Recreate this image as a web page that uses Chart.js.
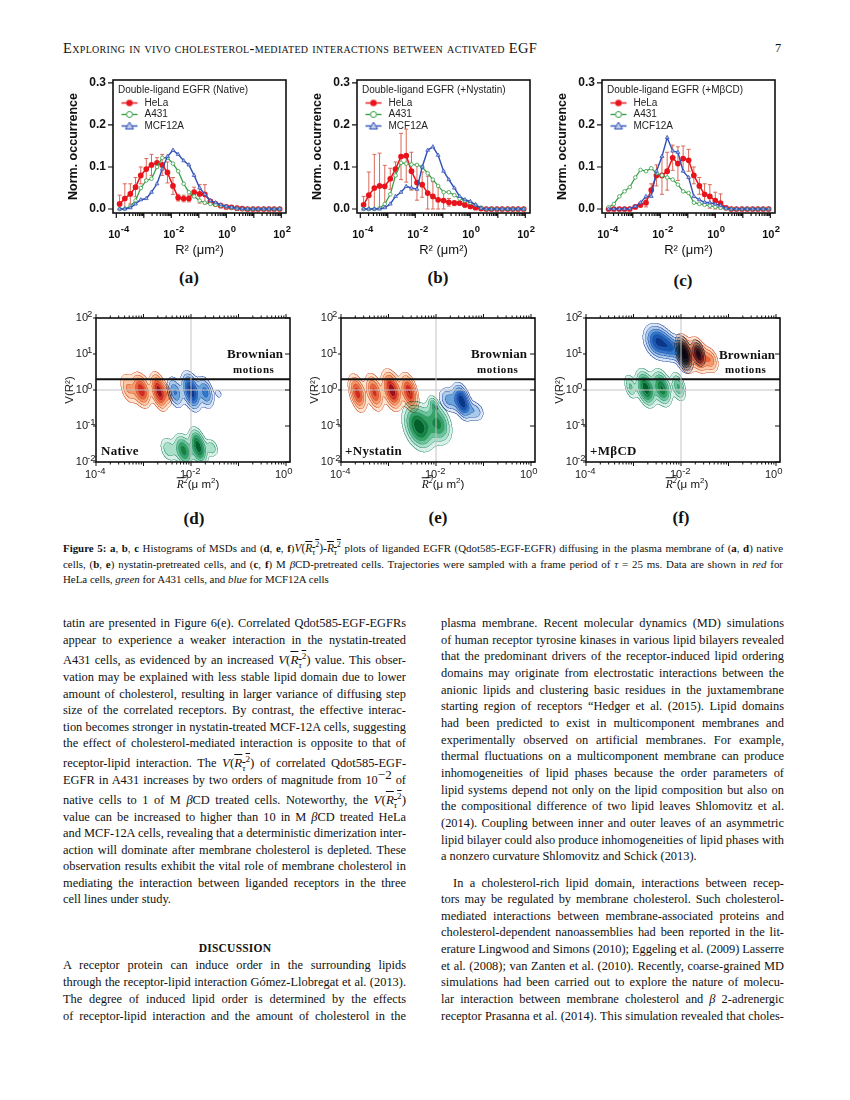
<!DOCTYPE html>
<html><head><meta charset="utf-8">
<script src="https://cdn.jsdelivr.net/npm/chart.js@4/dist/chart.umd.js"></script>
<style>
html,body{margin:0;padding:0;background:#fff;width:850px;height:1100px;overflow:hidden}
body{position:relative;font-family:"Liberation Serif",serif;color:#111}
canvas{position:absolute}
.t{position:absolute;white-space:nowrap;line-height:1}
.ln{position:absolute;white-space:nowrap;line-height:14px;height:14px;text-align:justify;text-align-last:justify;font-size:12.4px}
.cp{position:absolute;white-space:nowrap;line-height:12px;height:12px;font-size:10.9px;text-align:justify;text-align-last:justify}
.ol{text-decoration:overline}
sub,sup{font-size:70%;line-height:0}
.m{font-size:13px}
</style></head><body>
<script>
// ---------- histogram data (panels a, b, c) ----------
const binExponents=[-3.88,-3.69,-3.49,-3.30,-3.11,-2.91,-2.72,-2.52,-2.33,-2.14,-1.94,-1.75,-1.55,-1.36,-1.17,-0.97,-0.78,-0.58,-0.39,-0.20,0.00,0.19,0.39,0.58,0.77,0.97,1.16,1.36,1.55,1.74,1.94];
const aHeLa=[.012,.025,.036,.052,.08,.095,.105,.11,.105,.087,.055,.027,.025,.025,.04,.036,.035,.018,.012,.008,.005,.004,.002,.001,0,0,0,0,0,0,0];
const aHeLaErr=[.021,.035,.024,.023,.02,.025,.025,.012,.025,.025,.02,.008,.008,.008,.012,.022,.023,.004,.003,.002,.001,.001,0,0,0,0,0,0,0,0,0];
const aA431=[0,.001,.006,.02,.05,.068,.072,.1,.122,.122,.108,.09,.06,.04,.03,.02,.015,.012,.01,.008,.005,.003,.001,0,0,0,0,0,0,0,0];
const aMCF=[0,0,.003,.012,.022,.025,.04,.06,.095,.125,.14,.13,.115,.105,.08,.05,.035,.02,.015,.01,.006,.004,.002,.001,0,0,0,0,0,0,0];
const bHeLa=[.01,.033,.05,.055,.054,.072,.095,.125,.127,.09,.063,.058,.038,.03,.022,.02,.016,.014,.014,.01,.006,.003,.001,0,0,0,0,0,0,0,0];
const bHeLaErr=[.02,.055,.08,.078,.05,.025,.017,.055,.063,.045,.042,.03,.04,.035,.033,.02,.009,.006,.004,.006,.004,.002,0,0,0,0,0,0,0,0,0];
const bA431=[0,0,0,.002,.012,.035,.08,.11,.108,.106,.105,.1,.085,.07,.055,.04,.04,.033,.025,.02,.015,.01,.003,0,0,0,0,0,0,0,0];
const bMCF=[0,0,0,0,.003,.012,.03,.04,.054,.05,.047,.1,.14,.148,.128,.09,.07,.05,.03,.022,.018,.01,.002,0,0,0,0,0,0,0,0];
const cHeLa=[0,0,0,0,0,.005,.01,.015,.045,.08,.08,.09,.122,.108,.12,.116,.08,.055,.035,.03,.02,.014,.003,0,0,0,0,0,0,0,0];
const cHeLaErr=[0,0,0,0,0,.003,.006,.01,.015,.025,.045,.045,.03,.04,.03,.026,.02,.02,.025,.028,.02,.022,.003,0,0,0,0,0,0,0,0];
const cA431=[.004,.012,.03,.042,.052,.075,.093,.09,.097,.085,.08,.075,.07,.058,.042,.038,.015,.012,.01,.008,.005,.003,.001,0,0,0,0,0,0,0,0];
const cMCF=[0,0,0,0,.001,.006,.015,.03,.03,.09,.125,.17,.138,.135,.09,.075,.03,.022,.016,.015,.012,.008,.002,0,0,0,0,0,0,0,0];
const histYTicks=[0,.1,.2,.3];
const histXTicks=[1e-4,1e-2,1,100];
const histXExponents=['-4','-2','0','2'];
const seriesNames=['HeLa','A431','MCF12A'];
const histTitles=['Double-ligand EGFR (Native)','Double-ligand EGFR (+Nystatin)','Double-ligand EGFR (+MβCD)'];
// ---------- density lobes (panels d, e, f): R², V, relative density, spread in log R², spread in log V ----------
const dHeLa=[[4.7e-4,1.12,.35,.09,.24],[8.9e-4,1,.8,.1,.25],[2.1e-3,.92,1,.085,.26],[3.2e-3,.75,.3,.05,.17]];
const dA431=[[3.3e-3,.023,.3,.1,.2],[6.9e-3,.021,.75,.1,.24],[1.4e-2,.027,1,.09,.26],[2.7e-2,.025,.3,.08,.15]];
const dMCF=[[4.6e-3,.87,.5,.09,.24],[1e-2,.93,1,.095,.27],[2e-2,.87,.55,.09,.24],[3.8e-2,.8,.15,.05,.1]];
const eHeLa=[[2.2e-4,.83,.75,.09,.27],[5e-4,.88,.7,.09,.27],[1.17e-3,1,1,.1,.28],[2.7e-3,.88,.85,.09,.27]];
const eA431=[[4.3e-3,.098,1,.16,.33],[1.1e-2,.12,.7,.14,.3],[8.7e-3,.4,.35,.06,.14]];
const eMCF=[[3.5e-2,.49,1,.09,.25],[1.86e-2,.54,.4,.12,.2],[6.6e-2,.26,.3,.11,.17],[1e-2,.32,.2,.02,.05]];
const fHeLa=[[1.2e-2,10.5,1,.09,.26],[2.3e-2,9.5,.95,.09,.24],[4.1e-2,6.9,.45,.09,.2]];
const fA431=[[8.5e-4,1.26,.35,.07,.2],[1.8e-3,1.13,1,.1,.26],[3.9e-3,1.17,.85,.1,.26],[8.7e-3,1.26,.5,.08,.22]];
const fMCF=[[3.3e-3,22,.9,.15,.25],[6e-3,15,.5,.1,.2],[1.1e-2,10,1,.09,.25],[2.3e-2,10.7,.55,.07,.2]];
const brownianV=2;
const contourXTicks=[1e-4,1e-2,1];
const contourXExponents=['-4','-2','0'];
const contourYTicks=[1e-2,1e-1,1,10,100];
const contourYExponents=['-2','-1','0','1','2'];

const densityLevels=[.1,.2,.33,.48,.64,.82];
const palette={
 red:{edge:[214,92,54],fill:[[253,228,208],[251,199,162],[244,153,108],[232,98,63],[207,43,34],[154,15,30]]},
 green:{edge:[60,152,120],fill:[[217,240,232],[170,223,201],[108,196,154],[53,162,102],[20,131,63],[3,96,43]]},
 blue:{edge:[56,88,174],fill:[[216,230,246],[169,203,233],[104,163,220],[47,120,203],[21,88,176],[8,56,138]]}
};

function el(cls,style,html){const d=document.createElement('div');d.className=cls;d.style.cssText=style;d.innerHTML=html;document.body.appendChild(d);return d;}
function minorValues(lo,hi){const out=[];for(let e=lo;e<hi;e++)for(let m=1;m<10;m++)out.push({v:m*Math.pow(10,e),major:m===1});out.push({v:Math.pow(10,hi),major:true});return out;}
function drawExp(ctx,text,x,y,font){ctx.font=font;ctx.textAlign='left';ctx.textBaseline='middle';ctx.fillText(text,x,y);}

const histFrame={id:'histFrame',
 beforeDatasetsDraw(c){
  const ctx=c.ctx,y=c.scales.y;ctx.save();ctx.lineWidth=1;ctx.strokeStyle='#d9695a';
  c.data.datasets.forEach((ds,i)=>{if(!ds.yErr)return;const m=c.getDatasetMeta(i);
   ds.yErr.forEach((er,k)=>{if(!er)return;const px=m.data[k].x;const a=y.getPixelForValue(ds.data[k].y+er),b=y.getPixelForValue(Math.max(ds.data[k].y-er,0));
    ctx.beginPath();ctx.moveTo(px,a);ctx.lineTo(px,b);ctx.moveTo(px-2,a);ctx.lineTo(px+2,a);ctx.moveTo(px-2,b);ctx.lineTo(px+2,b);ctx.stroke();});});
  ctx.restore();},
 afterDraw(c){
  const ctx=c.ctx,a=c.chartArea;ctx.save();ctx.strokeStyle='#111';ctx.lineWidth=1.6;ctx.strokeRect(a.left,a.top,a.right-a.left,a.bottom-a.top);
  ctx.lineWidth=1.2;ctx.beginPath();
  minorValues(-4,2).forEach(t=>{const x=c.scales.x.getPixelForValue(t.v);ctx.moveTo(x,a.bottom);ctx.lineTo(x,a.bottom+(t.major?5:3));});
  histYTicks.forEach(t=>{const y=c.scales.y.getPixelForValue(t);ctx.moveTo(a.left,y);ctx.lineTo(a.left-5,y);});
  ctx.stroke();
  ctx.fillStyle='#111';
  histXTicks.forEach((t,i)=>drawExp(ctx,histXExponents[i],c.scales.x.getPixelForValue(t)-2+6.5,a.bottom+16,"bold 9.5px 'Liberation Sans'"));
  ctx.restore();},
 afterLayout(c){if(c.legend){c.legend.left=c.chartArea.left+5;c.legend.top=c.chartArea.top+5;}}
};

function marker(color,kind){const cv=document.createElement('canvas');cv.width=20;cv.height=9;const g=cv.getContext('2d');
 g.strokeStyle=color;g.lineWidth=1.4;g.beginPath();g.moveTo(2,4.5);g.lineTo(18,4.5);g.stroke();
 g.lineWidth=1;
 if(kind==='c'){g.fillStyle=color;g.beginPath();g.arc(10,4.5,3.2,0,7);g.fill();}
 if(kind==='o'){g.fillStyle='#fff';g.beginPath();g.arc(10,4.5,3,0,7);g.fill();g.stroke();}
 if(kind==='t'){g.fillStyle='#c4cdec';g.beginPath();g.moveTo(10,.5);g.lineTo(14,7.5);g.lineTo(6,7.5);g.closePath();g.fill();g.stroke();}
 return cv;}

function histChart(left,title,he,er,gr,bl){
 const cv=document.createElement('canvas');cv.width=230;cv.height=186;cv.style.left=(left-47)+'px';cv.style.top='72px';document.body.appendChild(cv);
 const pts=arr=>arr.map((v,i)=>({x:Math.pow(10,binExponents[i]),y:v}));
 const cols=['#e8141c','#3aa04a','#2e4fb5'];
 const marks=[marker(cols[0],'c'),marker(cols[1],'o'),marker(cols[2],'t')];
 new Chart(cv,{type:'scatter',plugins:[histFrame],
  data:{datasets:[
   {label:seriesNames[1],data:pts(gr),showLine:true,borderColor:cols[1],borderWidth:1.3,pointStyle:'circle',pointRadius:1.8,pointBackgroundColor:'#fff',pointBorderColor:cols[1],pointBorderWidth:.8,order:2,tension:0},
   {label:seriesNames[0],data:pts(he),yErr:er,showLine:true,borderColor:cols[0],borderWidth:1.5,pointStyle:'circle',pointRadius:2.1,pointBackgroundColor:cols[0],pointBorderColor:cols[0],order:3,tension:0},
   {label:seriesNames[2],data:pts(bl),showLine:true,borderColor:cols[2],borderWidth:1.4,pointStyle:'triangle',pointRadius:2.2,pointBackgroundColor:'#a9b6e6',pointBorderColor:cols[2],pointBorderWidth:.7,order:1,tension:0}
  ]},
  options:{responsive:false,animation:false,devicePixelRatio:1,clip:false,
   layout:{padding:{left:0,top:8,right:10,bottom:0}},
   plugins:{tooltip:{enabled:false},
    legend:{display:true,position:'chartArea',align:'start',
     title:{display:true,text:title,color:'#222',position:'start',padding:0,font:{family:'Liberation Sans',size:10,lineHeight:1.15}},
     labels:{usePointStyle:true,pointStyleWidth:20,padding:1.5,color:'#222',font:{family:'Liberation Sans',size:10},
      generateLabels(){return seriesNames.map((n,i)=>({text:n,pointStyle:marks[i],fontColor:'#222',lineWidth:0,strokeStyle:'transparent',fillStyle:'transparent',hidden:false,datasetIndex:i}));}}}},
   scales:{
    x:{type:'logarithmic',min:Math.pow(10,-4.12),max:Math.pow(10,2.17),
     afterBuildTicks(s){s.ticks=histXTicks.map(v=>({value:v,major:true}));},
     afterFit(s){s.height=45;s.paddingLeft=0;s.paddingRight=0;},
     grid:{display:false,drawTicks:false},border:{display:false},
     ticks:{autoSkip:false,maxRotation:0,padding:15,labelOffset:-2,color:'#111',font:{family:'Liberation Sans',size:11,weight:'bold'},callback(){return '10';}},
     title:{display:true,text:'R² (μm²)',color:'#111',padding:0,font:{family:'Liberation Sans',size:13,lineHeight:1.2}}},
    y:{type:'linear',min:-.0095,max:.307,
     afterBuildTicks(s){s.ticks=histYTicks.map(v=>({value:v}));},
     afterFit(s){s.width=47;s.paddingTop=0;s.paddingBottom=0;},
     grid:{display:false,drawTicks:false},border:{display:false},
     ticks:{autoSkip:false,padding:7,color:'#111',font:{family:'Liberation Sans',size:12,weight:'bold'},callback(v){return v.toFixed(1);}},
     title:{display:true,text:'Norm. occurrence',color:'#111',padding:0,font:{family:'Liberation Sans',size:12.5,weight:'bold',lineHeight:1.2}}}
   }}});
}

function drawDensity(c,ds,pal,idx){
 const a=c.chartArea,sx=c.scales.x,sy=c.scales.y,ss=2,W=Math.round((a.right-a.left)*ss),H=Math.round((a.bottom-a.top)*ss);
 const meta=c.getDatasetMeta(idx);
 const lobes=ds.lobes.map((l,k)=>{const cx=meta.data[k].x,cy=meta.data[k].y;
  return {cx,cy,p:l[2],rx:sx.getPixelForValue(l[0]*Math.pow(10,l[3]))-cx,ry:cy-sy.getPixelForValue(l[1]*Math.pow(10,l[4]))};});
 const lev=new Uint8Array(W*H);
 for(let j=0;j<H;j++)for(let i=0;i<W;i++){
  const x=a.left+(i+.5)/ss,y=a.top+(j+.5)/ss;let z=0;
  for(const l of lobes){const dy=y-l.cy,dx=x-l.cx-.22*dy;z+=l.p*Math.exp(-.5*(dx*dx/(l.rx*l.rx)+dy*dy/(l.ry*l.ry)));}
  let n=0;while(n<densityLevels.length&&z>=densityLevels[n])n++;lev[j*W+i]=n;}
 const off=document.createElement('canvas');off.width=W;off.height=H;const g=off.getContext('2d'),im=g.createImageData(W,H),d=im.data;
 for(let j=0;j<H;j++)for(let i=0;i<W;i++){const q=j*W+i,n=lev[q],l=i?lev[q-1]:n,u=j?lev[q-W]:n;const o=q*4;
  if(n!==l||n!==u){const e=pal.edge;d[o]=e[0];d[o+1]=e[1];d[o+2]=e[2];d[o+3]=255;}
  else if(n){const f=pal.fill[n-1];d[o]=f[0];d[o+1]=f[1];d[o+2]=f[2];d[o+3]=255;}}
 g.putImageData(im,0,0);
 c.ctx.save();c.ctx.globalCompositeOperation='multiply';c.ctx.imageSmoothingEnabled=true;c.ctx.drawImage(off,a.left,a.top,a.right-a.left,a.bottom-a.top);c.ctx.restore();
}
const contourFrame={id:'contourFrame',
 beforeDatasetsDraw(c){c.data.datasets.forEach((ds,i)=>{if(ds.lobes)drawDensity(c,ds,palette[ds.tone],i);});},
 afterDraw(c){
  const ctx=c.ctx,a=c.chartArea;ctx.save();ctx.strokeStyle='#111';ctx.lineWidth=1.6;ctx.strokeRect(a.left,a.top,a.right-a.left,a.bottom-a.top);
  ctx.lineWidth=1;ctx.beginPath();
  minorValues(-4,0).forEach(t=>{const x=c.scales.x.getPixelForValue(t.v),n=t.major?4:2.5;
   ctx.moveTo(x,a.bottom);ctx.lineTo(x,a.bottom+n);ctx.moveTo(x,a.top);ctx.lineTo(x,a.top-n);});
  contourYTicks.forEach(t=>{const y=c.scales.y.getPixelForValue(t);ctx.moveTo(a.left,y);ctx.lineTo(a.left-3,y);ctx.moveTo(a.right,y);ctx.lineTo(a.right-5,y);});
  ctx.stroke();
  ctx.fillStyle='#222';
  const f="9.5px 'Liberation Sans'";
  contourXTicks.forEach((t,i)=>drawExp(ctx,contourXExponents[i],c.scales.x.getPixelForValue(t)-5+6.2,a.bottom+9,f));
  contourYTicks.forEach((t,i)=>drawExp(ctx,contourYExponents[i],a.left-9,c.scales.y.getPixelForValue(t)-4,f));
  ctx.restore();}
};

function contourChart(left,he,gr,bl){
 const cv=document.createElement('canvas');cv.width=237;cv.height=190;cv.style.left=(left-33)+'px';cv.style.top='305px';document.body.appendChild(cv);
 const xMax=Math.pow(10,.084);
 const lob=(name,arr,tone)=>({label:name,lobes:arr,tone,data:arr.map(l=>({x:l[0],y:l[1]})),pointRadius:0,showLine:false});
 new Chart(cv,{type:'scatter',plugins:[contourFrame],
  data:{datasets:[
   lob(seriesNames[0],he,'red'),lob(seriesNames[1],gr,'green'),lob(seriesNames[2],bl,'blue'),
   {label:'V = 1',data:[{x:1e-4,y:1},{x:xMax,y:1}],showLine:true,borderColor:'#c4c4c4',borderWidth:1,pointRadius:0},
   {label:'R² = 10⁻²',data:[{x:1e-2,y:1e-2},{x:1e-2,y:100}],showLine:true,borderColor:'#c4c4c4',borderWidth:1,pointRadius:0},
   {label:'Brownian',data:[{x:1e-4,y:brownianV},{x:xMax,y:brownianV}],showLine:true,borderColor:'#111',borderWidth:2,pointRadius:0}
  ]},
  options:{responsive:false,animation:false,devicePixelRatio:1,
   layout:{padding:{left:0,top:13,right:10,bottom:0}},
   plugins:{legend:{display:false},tooltip:{enabled:false}},
   scales:{
    x:{type:'logarithmic',min:1e-4,max:xMax,
     afterBuildTicks(s){s.ticks=contourXTicks.map(v=>({value:v,major:true}));},
     afterFit(s){s.height=33;s.paddingLeft=0;s.paddingRight=0;},
     grid:{display:false,drawTicks:false},border:{display:false},
     ticks:{autoSkip:false,maxRotation:0,padding:6,labelOffset:-5,color:'#222',font:{family:'Liberation Sans',size:11},callback(){return '10';}}},
    y:{type:'logarithmic',min:1e-2,max:100,
     afterBuildTicks(s){s.ticks=contourYTicks.map(v=>({value:v,major:true}));},
     afterFit(s){s.width=33;s.paddingTop=0;s.paddingBottom=0;},
     grid:{display:false,drawTicks:false},border:{display:false},
     ticks:{autoSkip:false,padding:8,color:'#222',font:{family:'Liberation Sans',size:11},callback(){return '10';}},
     title:{display:true,text:'V(R²)',color:'#222',padding:0,font:{family:'Liberation Sans',size:11.5,lineHeight:1.2}}}
   }}});
}

histChart(113,histTitles[0],aHeLa,aHeLaErr,aA431,aMCF);
histChart(357,histTitles[1],bHeLa,bHeLaErr,bA431,bMCF);
histChart(602,histTitles[2],cHeLa,cHeLaErr,cA431,cMCF);
contourChart(96,dHeLa,dA431,dMCF);
contourChart(341,eHeLa,eA431,eMCF);
contourChart(586,fHeLa,fA431,fMCF);

// ---------- page text ----------
const VR='<span class="m"><i>V</i>(<span class="ol"><i>R<sub>τ</sub></i><sup>2</sup></span>)</span>';
el('t','left:63px;top:41px;font-size:14.5px;font-variant:small-caps;letter-spacing:.33px','Exploring in vivo cholesterol-mediated interactions between activated EGF');
el('t','left:775px;top:42px;font-size:12.5px','7');
[['(a)',189,277],['(b)',438,277],['(c)',683,280],['(d)',194,518],['(e)',438,517],['(f)',681,517]].forEach(p=>el('t',`left:${p[1]}px;top:${p[2]}px;transform:translate(-50%,-50%);font-size:17px;font-weight:bold`,p[0]));
[[96,'Native',101,451],[341,'+Nystatin',345,451],[586,'+MβCD',590,451]].forEach(p=>el('t',`left:${p[2]}px;top:${p[3]-7}px;font-size:13px;font-weight:bold;letter-spacing:.3px`,p[1]));
[[227,354],[471,354],[719,355]].forEach(p=>el('t',`left:${p[0]}px;top:${p[1]-7}px;font-size:13px;font-weight:bold;letter-spacing:.2px`,'Brownian'));
[[233,370],[477,370],[725,370]].forEach(p=>el('t',`left:${p[0]}px;top:${p[1]-6}px;font-size:11px;font-weight:bold;letter-spacing:.6px`,'motions'));
[198,443,687].forEach(x=>el('t',`left:${x}px;top:485px;transform:translate(-50%,-50%);font-size:11.5px;font-family:'Liberation Sans'`,`<i class="ol" style="font-family:'Liberation Serif'">R<sup>2</sup></i>(μ m<sup>2</sup>)`));

function fitLine(node,target){
 const span=document.createElement('span');span.innerHTML=node.innerHTML;span.style.display='inline-block';span.style.textAlignLast='left';
 node.innerHTML='';node.appendChild(span);
 const w=span.getBoundingClientRect().width;
 if(w>target){const n=span.textContent.length;span.style.letterSpacing=((target-w)/n).toFixed(3)+'px';}
 else{node.innerHTML=span.innerHTML;}
}
const captionLines=[
 [548,`<b>Figure 5: a</b>, <b>b</b>, <b>c</b> Histograms of MSDs and (<b>d</b>, <b>e</b>, <b>f</b>)<span style="font-size:11.5px"><i>V</i>(<span class="ol"><i>R<sub>τ</sub></i><sup>2</sup></span>)-<span class="ol"><i>R<sub>τ</sub></i><sup>2</sup></span></span> plots of liganded EGFR (Qdot585-EGF-EGFR) diffusing in the plasma membrane of (<b>a</b>, <b>d</b>) native`,1],
 [564,`cells, (<b>b</b>, <b>e</b>) nystatin-pretreated cells, and (<b>c</b>, <b>f</b>) M <i>β</i>CD-pretreated cells. Trajectories were sampled with a frame period of <i>τ</i> = 25 ms. Data are shown in <i>red</i> for`,1],
 [579,`HeLa cells, <i>green</i> for A431 cells, and <i>blue</i> for MCF12A cells`,0]];
captionLines.forEach(l=>{const n=el('cp',`left:63px;top:${l[0]-6}px;${l[2]?'width:720px':'text-align-last:left'}`,l[1]);if(l[2])fitLine(n,720);});

const leftColumn=[
[623,'tatin are presented in Figure 6(e). Correlated Qdot585-EGF-EGFRs',1],
[640,'appear to experience a weaker interaction in the nystatin-treated',1],
[660,`A431 cells, as evidenced by an increased ${VR} value. This obser-`,1],
[677,'vation may be explained with less stable lipid domain due to lower',1],
[694,'amount of cholesterol, resulting in larger variance of diffusing step',1],
[710,'size of the correlated receptors. By contrast, the effective interac-',1],
[727,'tion becomes stronger in nystatin-treated MCF-12A cells, suggesting',1],
[743,'the effect of cholesterol-mediated interaction is opposite to that of',1],
[763,`receptor-lipid interaction. The ${VR} of correlated Qdot585-EGF-`,1],
[780,'EGFR in A431 increases by two orders of magnitude from 10<sup class="m">−2</sup> of',1],
[800,`native cells to 1 of M <i>β</i>CD treated cells. Noteworthy, the ${VR}`,1],
[817,'value can be increased to higher than 10 in M <i>β</i>CD treated HeLa',1],
[833,'and MCF-12A cells, revealing that a deterministic dimerization inter-',1],
[850,'action will dominate after membrane cholesterol is depleted. These',1],
[866,'observation results exhibit the vital role of membrane cholesterol in',1],
[883,'mediating the interaction between liganded receptors in the three',1],
[899,'cell lines under study.',0],
[965,'A receptor protein can induce order in the surrounding lipids',1],
[982,'through the receptor-lipid interaction Gómez-Llobregat et al. (2013).',1],
[999,'The degree of induced lipid order is determined by the effects',1],
[1016,'of receptor-lipid interaction and the amount of cholesterol in the',1]];
const rightColumn=[
[623,'plasma membrane. Recent molecular dynamics (MD) simulations',1],
[640,'of human receptor tyrosine kinases in various lipid bilayers revealed',1],
[656,'that the predominant drivers of the receptor-induced lipid ordering',1],
[673,'domains may originate from electrostatic interactions between the',1],
[690,'anionic lipids and clustering basic residues in the juxtamembrane',1],
[706,'starting region of receptors “Hedger et al. (2015). Lipid domains',1],
[723,'had been predicted to exist in multicomponent membranes and',1],
[740,'experimentally observed on artificial membranes. For example,',1],
[756,'thermal fluctuations on a multicomponent membrane can produce',1],
[773,'inhomogeneities of lipid phases because the order parameters of',1],
[790,'lipid systems depend not only on the lipid composition but also on',1],
[806,'the compositional difference of two lipid leaves Shlomovitz et al.',1],
[823,'(2014). Coupling between inner and outer leaves of an asymmetric',1],
[840,'lipid bilayer could also produce inhomogeneities of lipid phases with',1],
[856,'a nonzero curvature Shlomovitz and Schick (2013).',0],
[883,'In a cholesterol-rich lipid domain, interactions between recep-',2],
[899,'tors may be regulated by membrane cholesterol. Such cholesterol-',1],
[916,'mediated interactions between membrane-associated proteins and',1],
[932,'cholesterol-dependent nanoassemblies had been reported in the lit-',1],
[949,'erature Lingwood and Simons (2010); Eggeling et al. (2009) Lasserre',1],
[966,'et al. (2008); van Zanten et al. (2010). Recently, coarse-grained MD',1],
[982,'simulations had been carried out to explore the nature of molecu-',1],
[999,'lar interaction between membrane cholesterol and <i>β</i> 2-adrenergic',1],
[1016,'receptor Prasanna et al. (2014). This simulation revealed that choles-',1]];
function column(lines,x){lines.forEach(l=>{
 const ind=l[2]===2?12:0,wd=343-ind;
 const n=el('ln',`left:${x+ind}px;top:${l[0]-7}px;${l[2]?`width:${wd}px`:'text-align-last:left'}`,l[1]);
 if(l[2])fitLine(n,wd);});}
column(leftColumn,63);column(rightColumn,441);
el('t','left:235px;top:949px;transform:translate(-50%,-50%);font-size:11.5px;font-weight:bold;letter-spacing:.2px','DISCUSSION');
</script>
</body></html>
